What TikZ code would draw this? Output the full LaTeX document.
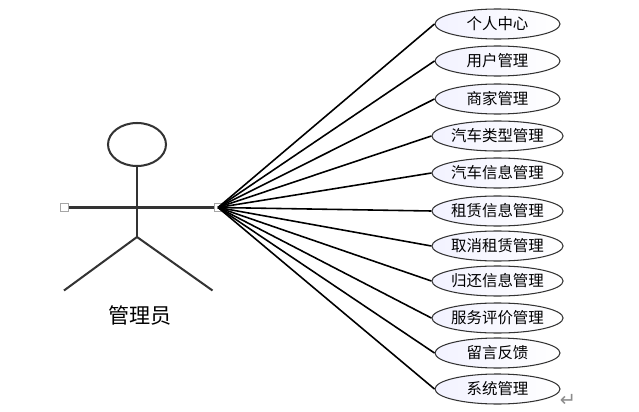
\documentclass[tikz,border=0pt]{standalone}
\usepackage{fontspec}
\setmainfont{Noto Sans CJK SC}
\newfontfamily\symfont{DejaVu Sans}
\usetikzlibrary{shapes.geometric}
\definecolor{figline}{HTML}{333333}
\tikzset{
  usecase/.style={draw=black!80,line width=0.6pt,ellipse,left color=blue!5,right color=white,minimum width=125*0.02cm,minimum height=30*0.02cm,inner sep=0pt,font=\fontsize{8.8}{8.8}\selectfont},
  handle/.style={draw=black!35,fill=white,line width=0.7pt,minimum size=7.5*0.02cm,inner sep=0pt},
  limb/.style={figline,line width=1.15pt},
  link/.style={black,line width=0.9pt}
}
\begin{document}
\begin{tikzpicture}[x=0.02cm,y=-0.02cm]
  \useasboundingbox (0,0) rectangle (639,412);
  % actor
  \node[draw=figline,line width=1.15pt,ellipse,minimum width=58*0.02cm,minimum height=43*0.02cm,inner sep=0pt] (head) at (137,144.5) {};
  \coordinate (hip) at (137,237);
  \coordinate (footl) at (64,290.5);
  \coordinate (footr) at (212.5,290.5);
  \node[handle] (handl) at (64.5,207.5) {};
  \node[handle] (handr) at (218,207.5) {};
  \draw[limb] (head) -- (hip);
  \draw[limb] (handl) -- (handr);
  \draw[limb] (footl) -- (hip) -- (footr);
  \node[font=\fontsize{12}{12}\selectfont] (actor) at (140,315) {管理员};
  % use cases
  \node[usecase] (uc1) at (497.5,24) {个人中心};
  \node[usecase] (uc2) at (497.5,61) {用户管理};
  \node[usecase] (uc3) at (497.5,99) {商家管理};
  \node[usecase] (uc4) at (497.5,136) {汽车类型管理};
  \node[usecase] (uc5) at (497.5,173) {汽车信息管理};
  \node[usecase] (uc6) at (497.5,211) {租赁信息管理};
  \node[usecase] (uc7) at (497.5,246) {取消租赁管理};
  \node[usecase] (uc8) at (497.5,281) {归还信息管理};
  \node[usecase] (uc9) at (497.5,318) {服务评价管理};
  \node[usecase] (uc10) at (497.5,353) {留言反馈};
  \node[usecase] (uc11) at (497.5,389) {系统管理};
  \draw[link] (handr.center) -- (uc1.west);
  \draw[link] (handr.center) -- (uc2.west);
  \draw[link] (handr.center) -- (uc3.west);
  \draw[link] (handr.center) -- (uc4.west);
  \draw[link] (handr.center) -- (uc5.west);
  \draw[link] (handr.center) -- (uc6.west);
  \draw[link] (handr.center) -- (uc7.west);
  \draw[link] (handr.center) -- (uc8.west);
  \draw[link] (handr.center) -- (uc9.west);
  \draw[link] (handr.center) -- (uc10.west);
  \draw[link] (handr.center) -- (uc11.west);
  \node[text=black!45,font=\symfont\fontsize{11}{11}\selectfont,inner sep=0pt] (ret) at (568,400) {↵};
\end{tikzpicture}
\end{document}
